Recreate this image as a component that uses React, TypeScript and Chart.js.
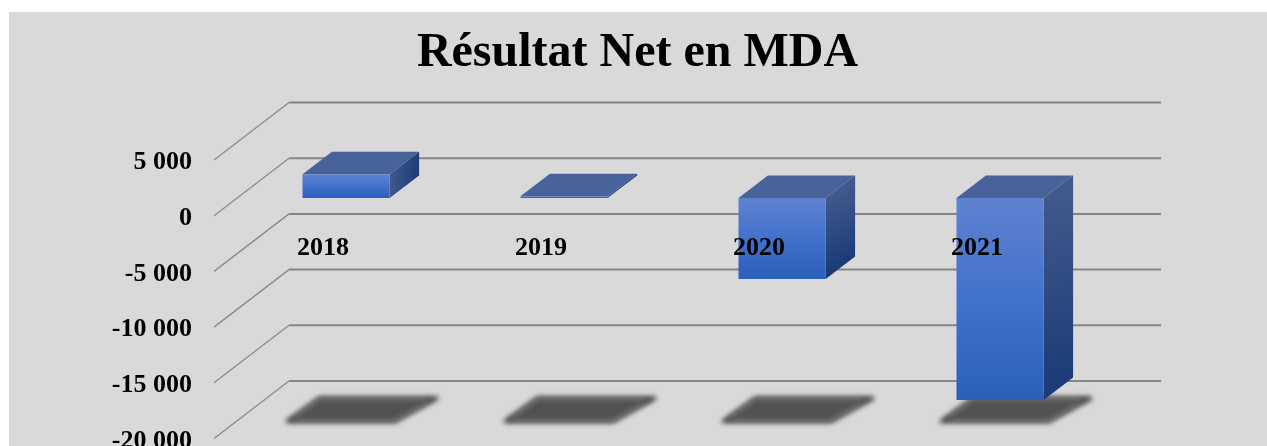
import React, { useEffect, useRef } from "react";
import { Chart, registerables } from "chart.js";

Chart.register(...registerables);

const categories = ["2018", "2019", "2020", "2021"];
const resultatNet = [2120, 150, -7270, -18130];
const yTickLabels: Record<string, string> = {
  "5000": "5 000",
  "0": "0",
  "-5000": "-5 000",
  "-10000": "-10 000",
  "-15000": "-15 000",
  "-20000": "-20 000",
};
const titleText = "Résultat Net en MDA";

const FONT = '"Liberation Serif", "Times New Roman", serif';
// Depth of the fake 3D floor (wall offset from front axis plane) in pixels.
const WALL_DX = 75;
const WALL_DY = -57.5;
// Canvas text sits a little above its tick; the marks are lifted by the same amount.
const NUDGE = -2.5;
// Bar planes, as fractions of the floor depth.
const BAR_FRONT = 0.308;
const BAR_BACK = 0.70;

const threeD = {
  id: "threeD",
  beforeDraw(chart: any) {
    const { ctx, width, height } = chart;
    ctx.save();
    ctx.fillStyle = "#d9d9d9";
    ctx.fillRect(9, 12, width - 9, height - 12);
    ctx.restore();
  },
  beforeDatasetsDraw(chart: any) {
    const { ctx, chartArea, scales } = chart;
    const y = scales.y;
    ctx.save();
    // Walls / gridlines
    ctx.lineCap = "butt";
    y.ticks.forEach((t: any) => {
      const py = y.getPixelForValue(t.value) + NUDGE;
      ctx.strokeStyle = "#8c8c8c";
      ctx.lineWidth = 1.4;
      ctx.beginPath();
      ctx.moveTo(chartArea.left, py);
      ctx.lineTo(chartArea.left + WALL_DX, py + WALL_DY);
      ctx.stroke();
      ctx.strokeStyle = "#868686";
      ctx.lineWidth = 2;
      ctx.beginPath();
      ctx.moveTo(chartArea.left + WALL_DX, py + WALL_DY);
      ctx.lineTo(chartArea.right + WALL_DX, py + WALL_DY);
      ctx.stroke();
    });

    const meta = chart.getDatasetMeta(0);
    const fx = WALL_DX * BAR_FRONT;
    const fy = WALL_DY * BAR_FRONT + NUDGE;
    const bx = WALL_DX * (BAR_BACK - BAR_FRONT);
    const by = WALL_DY * (BAR_BACK - BAR_FRONT);
    const floor = y.getPixelForValue(y.min);

    // Floor shadows
    ctx.save();
    ctx.filter = "blur(2.5px)";
    ctx.fillStyle = "#525252";
    ctx.strokeStyle = "#525252";
    ctx.lineWidth = 4;
    ctx.lineJoin = "round";
    meta.data.forEach((el: any) => {
      const l = el.x - el.width / 2 + fx;
      const r = el.x + el.width / 2 + fx;
      const front = floor + fy + 0.5;
      const back = floor + WALL_DY * BAR_BACK + NUDGE;
      ctx.beginPath();
      ctx.moveTo(l - 15, front);
      ctx.lineTo(r + 5, front);
      ctx.lineTo(r + 47, back);
      ctx.lineTo(l + 17, back);
      ctx.closePath();
      ctx.fill();
      ctx.stroke();
    });
    ctx.restore();

    // Top and side faces of the bars
    meta.data.forEach((el: any) => {
      const r = el.x + el.width / 2 + fx;
      const l = el.x - el.width / 2 + fx;
      const top = Math.min(el.y, el.base) + fy;
      const bot = Math.max(el.y, el.base) + fy;
      const side = ctx.createLinearGradient(r, top, r + bx, bot + by);
      side.addColorStop(0, "#41598c");
      side.addColorStop(1, "#1c3c78");
      ctx.fillStyle = side;
      ctx.beginPath();
      ctx.moveTo(r, top);
      ctx.lineTo(r + bx, top + by);
      ctx.lineTo(r + bx, bot + by);
      ctx.lineTo(r, bot);
      ctx.closePath();
      ctx.fill();
      ctx.fillStyle = "#48629a";
      ctx.beginPath();
      ctx.moveTo(l, top);
      ctx.lineTo(l + bx, top + by);
      ctx.lineTo(r + bx, top + by);
      ctx.lineTo(r, top);
      ctx.closePath();
      ctx.fill();
    });
    ctx.restore();
  },
  beforeDatasetDraw(chart: any) {
    chart.ctx.save();
    chart.ctx.translate(WALL_DX * BAR_FRONT, WALL_DY * BAR_FRONT + NUDGE);
  },
  afterDatasetDraw(chart: any) {
    chart.ctx.restore();
  },
};

export default function App() {
  const ref = useRef<HTMLCanvasElement>(null);
  useEffect(() => {
    const chart = new Chart(ref.current as HTMLCanvasElement, {
      type: "bar",
      plugins: [threeD],
      data: {
        labels: categories,
        datasets: [
          {
            label: "Résultat Net",
            data: resultatNet,
            barPercentage: 0.4,
            categoryPercentage: 1,
            clip: false,
            borderWidth: 0,
            backgroundColor: (c: any) => {
              const { chart: ch, dataIndex } = c;
              const y = ch.scales.y;
              if (!y || dataIndex === undefined) return "#3f6fcc";
              const a = y.getPixelForValue(Math.max(resultatNet[dataIndex], 0));
              const b = y.getPixelForValue(Math.min(resultatNet[dataIndex], 0));
              if (!Number.isFinite(a) || !Number.isFinite(b)) return "#3f6fcc";
              const g = ch.ctx.createLinearGradient(0, a, 0, b);
              g.addColorStop(0, "#5f82cf");
              g.addColorStop(0.55, "#3f70cc");
              g.addColorStop(1, "#2b5fb8");
              return g;
            },
          },
        ],
      } as any,
      options: {
        responsive: false,
        animation: false,
        layout: {
          autoPadding: false,
          padding: { left: 8, right: 0, top: 0, bottom: 5 },
        },
        plugins: {
          legend: { display: false },
          tooltip: { enabled: false },
          title: {
            display: true,
            text: titleText,
            color: "#000000",
            font: { family: FONT, size: 48, weight: "bold" },
            padding: { top: 25, bottom: 79.9 },
          },
        },
        scales: {
          x: {
            position: { y: 0 },
            grid: { display: false, drawTicks: false },
            border: { display: false },
            afterFit: (s: any) => {
              s.height = 0;
            },
            ticks: {
              z: 1,
              padding: 14.5,
              maxRotation: 0,
              autoSkip: false,
              color: "#000000",
              font: { family: FONT, size: 26, weight: "bold" },
            },
          },
          y: {
            position: "left",
            min: -20000,
            max: 5000,
            grid: { display: false, drawTicks: false },
            border: { display: false },
            afterFit: (s: any) => {
              s.width = 206;
              s.paddingTop = 0;
              s.paddingBottom = 0;
            },
            ticks: {
              stepSize: 5000,
              padding: 22,
              color: "#000000",
              font: { family: FONT, size: 26, weight: "bold" },
              callback: (v: any) => yTickLabels[String(v)] ?? String(v),
            },
          },
          yRightInset: {
            position: "right",
            display: true,
            grid: { display: false, drawTicks: false },
            border: { display: false },
            ticks: { display: false },
            afterFit: (s: any) => {
              s.width = 181;
              s.paddingTop = 0;
              s.paddingBottom = 0;
            },
          },
        },
      } as any,
    });
    return () => chart.destroy();
  }, []);
  return (
    <div style={{ position: "absolute", left: 0, top: 0, width: 1267, height: 446 }}>
      <canvas ref={ref} width={1267} height={446} style={{ display: "block" }} />
    </div>
  );
}
